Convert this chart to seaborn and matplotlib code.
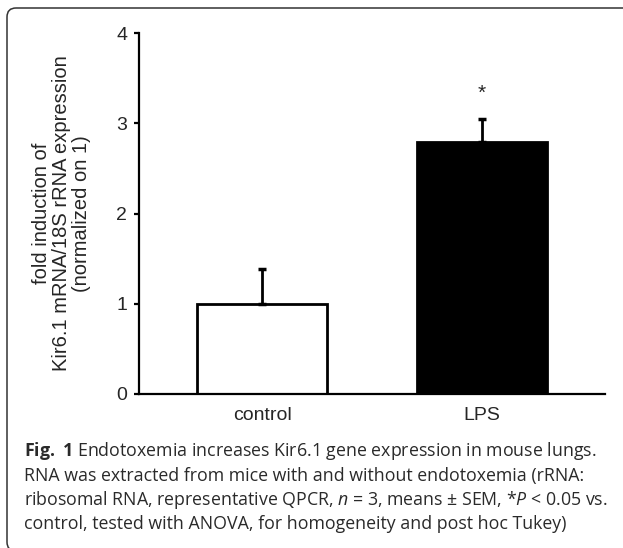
import matplotlib
matplotlib.use("Agg")
import matplotlib.pyplot as plt
from matplotlib.patches import FancyBboxPatch
import seaborn as sns
import pandas as pd

# data
groups = ["control", "LPS"]
means = [1.0, 2.79]
sem = [0.39, 0.26]
bar_colors = ["white", "black"]
star_y = 3.33
y_ticks = [0, 1, 2, 3, 4]

caption_lines = [
    r"$\mathbf{Fig.\ 1}$ Endotoxemia increases Kir6.1 gene expression in mouse lungs.",
    "RNA was extracted from mice with and without endotoxemia (rRNA:",
    r"ribosomal RNA, representative QPCR, $n$ = 3, means ± SEM, *$P$ < 0.05 vs.",
    "control, tested with ANOVA, for homogeneity and post hoc Tukey)",
]

sns.set_style("ticks")
plt.rcParams["font.family"] = ["Liberation Sans", "DejaVu Sans"]
plt.rcParams["mathtext.fontset"] = "custom"
plt.rcParams["mathtext.rm"] = "Open Sans"
plt.rcParams["mathtext.it"] = "Open Sans:italic"
plt.rcParams["mathtext.bf"] = "Open Sans:bold"

W, H = 623, 548
fig = plt.figure(figsize=(W / 100, H / 100), dpi=100)
ax = fig.add_axes([139 / W, 1 - 394 / H, (605 - 139) / W, (394 - 33) / H])

df = pd.DataFrame({"group": groups, "mean": means, "sem": sem})
sns.barplot(data=df, x="group", y="mean", hue="group", palette=bar_colors,
            edgecolor="black", linewidth=2, width=0.59, legend=False, ax=ax)

# upper error bars only
xs = [p.get_x() + p.get_width() / 2 for p in ax.patches]
ax.errorbar(xs, df["mean"], yerr=[[0] * len(sem), df["sem"]], fmt="none",
            ecolor="black", elinewidth=2, capsize=2.8, capthick=2.5, zorder=1)
ax.text(xs[1], star_y, "*", ha="center", va="center", fontsize=15)

ax.set_xlim(-0.56, 1.56)
ax.set_ylim(0, 4)
ax.set_yticks(y_ticks)
ax.set_xlabel("")
ax.set_ylabel("fold induction of\nKir6.1 mRNA/18S rRNA expression\n(normalized on 1)",
              fontsize=14.5, linespacing=1.07, labelpad=18)
sns.despine(ax=ax)
for s in ["left", "bottom"]:
    ax.spines[s].set_linewidth(1.6)
    ax.spines[s].set_color("black")
ax.tick_params(axis="y", length=3.5, width=1.6, labelsize=14, pad=5, color="black")
ax.tick_params(axis="x", length=0, labelsize=14, pad=9)

# caption
cap_base = [456, 481, 505, 529]
for line, py in zip(caption_lines, cap_base):
    fig.text(24 / W, 1 - py / H, line, ha="left", va="baseline",
             fontsize=12.8, family="Open Sans", color="#2a2a2a")

# rounded frame
box = FancyBboxPatch((7, -3), 640, H - 8 + 3, boxstyle="round,pad=0,rounding_size=9",
                     transform=None, fill=False, edgecolor="#333333", linewidth=1.1)
fig.patches.append(box)

fig.savefig("out.png", dpi=100)
